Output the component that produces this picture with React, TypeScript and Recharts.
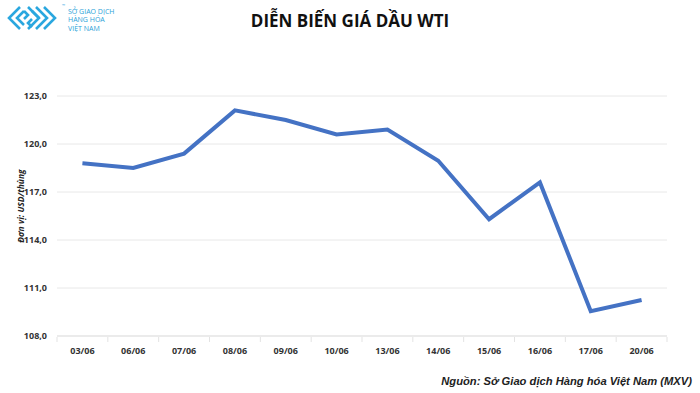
import React from 'react';
import { LineChart, Line, XAxis, YAxis, CartesianGrid } from 'recharts';

const categories = ['03/06', '06/06', '07/06', '08/06', '09/06', '10/06', '13/06', '14/06', '15/06', '16/06', '17/06', '20/06'];
const prices = [118.8, 118.5, 119.4, 122.1, 121.5, 120.6, 120.9, 118.95, 115.3, 117.6, 109.55, 110.25];
const yTicks = [108, 111, 114, 117, 120, 123];

const title = 'DIỄN BIẾN GIÁ DẦU WTI';
const yLabel = 'Đơn vị: USD/thùng';
const source = 'Nguồn: Sở Giao dịch Hàng hóa Việt Nam (MXV)';
const logoLines = ['SỞ GIAO DỊCH', 'HÀNG HÓA', 'VIỆT NAM'];

const data = categories.map((c, i) => ({ date: c, price: prices[i] }));

const FONT = '"Open Sans", "Noto Sans", sans-serif';
const HALF_BAND = 610 / categories.length / 2;

const XTick = (props: any) => {
  const { x, y, payload, index } = props;
  return (
    <g>
      <line x1={x - HALF_BAND} x2={x - HALF_BAND} y1={y - 1} y2={y + 4} stroke="#e3e3e3" />
      {index === categories.length - 1 && (
        <line x1={x + HALF_BAND} x2={x + HALF_BAND} y1={y - 1} y2={y + 4} stroke="#e3e3e3" />
      )}
      <text x={x} y={y + 16} textAnchor="middle" fontSize={9} fontWeight={700} fill="#333" fontFamily={FONT}>
        {payload.value}
      </text>
    </g>
  );
};

const Logo = () => (
  <svg width={60} height={30} style={{ position: 'absolute', left: 6, top: 5 }}>
    <g fill="none" stroke="#2aa7df" strokeWidth={2.6} strokeLinejoin="miter">
      <polyline points="14,2 3,13 14,24" />
      <polyline points="18,6 11,13 18,20" />
      <polyline points="22,2 33,13 22,24" />
      <polyline points="26,6 33,13" />
      <polyline points="30,2 41,13 30,24" />
      <polyline points="38,2 49,13 38,24" />
      <polyline points="18,6 22,10 18,14" />
      <polyline points="26,14 22,18 26,22" />
    </g>
  </svg>
);

export default function App() {
  return (
    <div style={{ position: 'absolute', left: 0, top: 0, width: 700, height: 393, background: '#fff', fontFamily: FONT }}>
      <Logo />
      <div style={{ position: 'absolute', left: 62, top: 3, fontSize: 4, color: '#2aa7df' }}>™</div>
      <svg width={80} height={36} style={{ position: 'absolute', left: 66, top: 2 }}>
        {logoLines.map((l, i) => (
          <text
            key={l}
            x={2}
            y={12 + i * 8.4}
            fontSize={7}
            fill="#2a9fd8"
            fontFamily={FONT}
          >
            {l}
          </text>
        ))}
      </svg>
      <div style={{ position: 'absolute', left: 0, width: 700, top: 9, textAlign: 'center', fontSize: 17, fontWeight: 700, color: '#111', fontFamily: FONT }}>
        {title}
      </div>
      <LineChart
        width={700}
        height={393}
        data={data}
        margin={{ top: 96, right: 33, bottom: 27, left: 7 }}
      >
        <CartesianGrid horizontal vertical={false} stroke="#e8e8e8" strokeWidth={1} />
        <XAxis
          dataKey="date"
          height={30}
          tick={<XTick />}
          tickLine={false}
          axisLine={{ stroke: '#e3e3e3' }}
          interval={0}
          tickSize={0}
          padding={{ left: HALF_BAND, right: HALF_BAND }}
        />
        <YAxis
          width={50}
          domain={[108, 123]}
          ticks={yTicks}
          tickFormatter={(v: number) => v.toFixed(1).replace('.', ',')}
          tick={{ fontSize: 9, fontWeight: 700, fill: '#333', fontFamily: FONT }}
          tickLine={false}
          axisLine={false}
          tickSize={0}
          tickMargin={10}
        />
        <Line
          type="linear"
          dataKey="price"
          stroke="#4472c4"
          strokeWidth={4}
          dot={false}
          isAnimationActive={false}
        />
      </LineChart>
      <div
        style={{
          position: 'absolute',
          left: 20,
          top: 206,
          transform: 'translate(-50%, -50%) rotate(-90deg)',
          fontSize: 8.5,
          fontWeight: 700,
          fontStyle: 'italic',
          color: '#222',
          whiteSpace: 'nowrap',
          fontFamily: FONT,
        }}
      >
        {yLabel}
      </div>
      <div
        style={{
          position: 'absolute',
          right: 8,
          top: 375,
          fontSize: 11.2,
          fontWeight: 700,
          fontStyle: 'italic',
          color: '#222',
          whiteSpace: 'nowrap',
          fontFamily: '"Liberation Sans", Arial, sans-serif',
        }}
      >
        {source}
      </div>
    </div>
  );
}
